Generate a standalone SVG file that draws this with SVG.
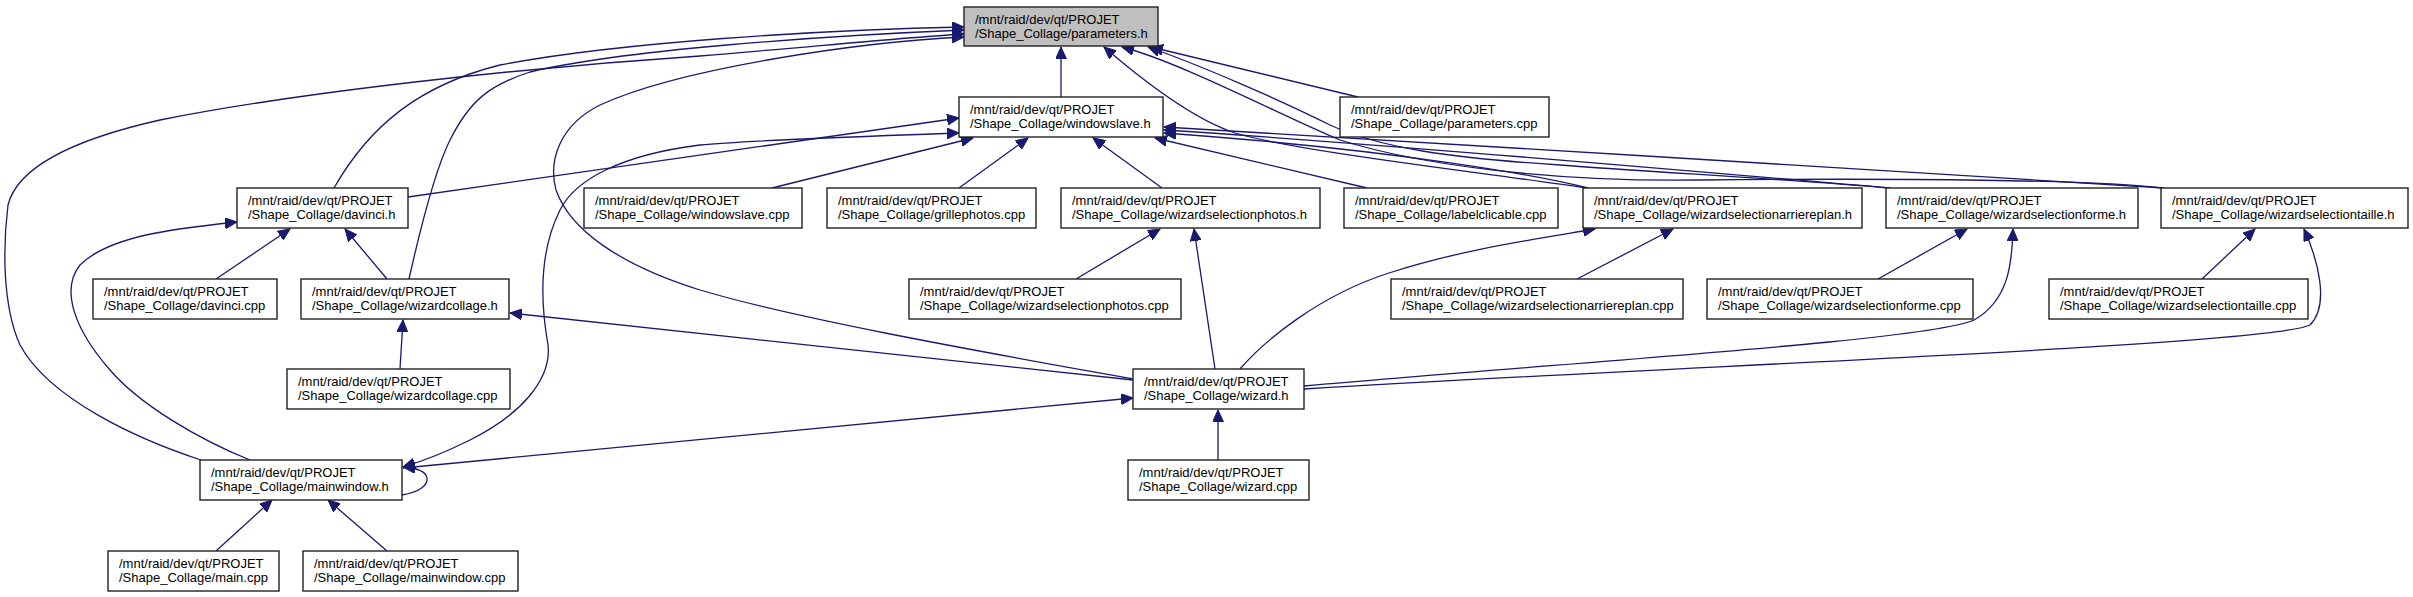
<svg xmlns="http://www.w3.org/2000/svg" width="2413" height="597" viewBox="0 0 2413 597">
<style>
.node rect{fill:#fff;stroke:#222;stroke-width:1.4}
.node.root rect{fill:#bfbfbf}
.node text{font-family:"Liberation Sans",Arial,Helvetica,sans-serif;font-size:13px;fill:#000}
.edges path{fill:none;stroke:#191970;stroke-width:1.3}
</style>
<defs>
<marker id="ah" markerUnits="userSpaceOnUse" markerWidth="13" markerHeight="11" refX="12" refY="5.5" orient="auto">
<path d="M0,0 L12,5.5 L0,11 z" fill="#191970" stroke="#191970" stroke-width="1"/>
</marker>
<marker id="as" markerUnits="userSpaceOnUse" markerWidth="13" markerHeight="11" refX="12" refY="5.5" orient="auto-start-reverse">
<path d="M0,0 L12,5.5 L0,11 z" fill="#191970" stroke="#191970" stroke-width="1"/>
</marker>
</defs>
<rect width="2413" height="597" fill="#fff"/>
<g class="edges" id="edges">
<path marker-end="url(#ah)" d="M1061,97 L1061,47"/>
<path marker-end="url(#ah)" d="M1358,97 L1151,47"/>
<path marker-end="url(#ah)" d="M334,188 C370,125 420,85 500,65 C620,42 820,30 964,27"/>
<path marker-end="url(#ah)" d="M409,279 C420,230 435,170 450,140 C470,100 490,85 530,72 C620,50 820,36 964,30"/>
<path marker-end="url(#ah)" d="M201,460 C140,440 50,400 20,345 C2,305 3,245 8,205 C18,165 80,138 160,120 C300,92 520,68 700,56 C820,46 910,37 964,34"/>
<path marker-end="url(#ah)" d="M1133,379 C1000,355 800,320 700,290 C620,265 570,230 556,190 C548,160 560,125 600,105 C680,68 860,42 964,37"/>
<path marker-end="url(#ah)" d="M1586,188 C1480,172 1300,152 1235,133 C1190,118 1140,78 1104,47"/>
<path marker-end="url(#ah)" d="M2162,188 C2100,180 1900,178 1700,180 C1550,182 1420,165 1340,140 C1280,115 1180,62 1122,47"/>
<path marker-end="url(#ah)" d="M1888,188 C1800,180 1650,172 1560,165 C1450,158 1380,148 1330,125 C1280,100 1200,65 1148,47"/>
<path marker-end="url(#ah)" d="M772,188 L973,138"/>
<path marker-end="url(#ah)" d="M959,188 L1028,138"/>
<path marker-end="url(#ah)" d="M1162,188 L1093,138"/>
<path marker-end="url(#ah)" d="M1367,188 L1155,138"/>
<path marker-end="url(#ah)" d="M408,197 L959,118"/>
<path marker-start="url(#as)" marker-end="url(#ah)" d="M959,133 C850,137 750,140 700,145 C620,155 575,180 560,210 C540,250 540,300 548,345 C552,380 520,415 470,440 C440,455 420,462 403,467"/>
<path marker-end="url(#ah)" d="M1588,188 C1540,176 1400,150 1164,133"/>
<path marker-end="url(#ah)" d="M1890,188 C1700,172 1400,145 1164,130"/>
<path marker-end="url(#ah)" d="M2164,188 C1900,170 1450,145 1164,127"/>
<path marker-end="url(#ah)" d="M216,279 L290,229"/>
<path marker-end="url(#ah)" d="M387,279 L345,229"/>
<path marker-end="url(#ah)" d="M250,460 C200,440 140,405 110,370 C75,330 60,290 80,265 C110,235 180,228 237,222"/>
<path marker-end="url(#ah)" d="M400,369 L403,320"/>
<path marker-end="url(#ah)" d="M1133,380 L510,313"/>
<path marker-end="url(#ah)" d="M403,468 L1133,398"/>
<path marker-end="url(#ah)" d="M402,495 C420,492 428,485 427,478 C426,472 418,468 403,467"/>
<path marker-end="url(#ah)" d="M216,551 L272,500"/>
<path marker-end="url(#ah)" d="M387,551 L328,500"/>
<path marker-end="url(#ah)" d="M1076,279 L1160,229"/>
<path marker-end="url(#ah)" d="M1215,369 L1194,229"/>
<path marker-end="url(#ah)" d="M1240,369 C1265,340 1320,295 1389,273 C1460,250 1530,240 1595,229"/>
<path marker-end="url(#ah)" d="M1577,279 L1673,229"/>
<path marker-end="url(#ah)" d="M1878,279 L1967,229"/>
<path marker-end="url(#ah)" d="M1304,386 C1600,360 1930,340 1974,320 C2010,300 2012,260 2013,229"/>
<path marker-end="url(#ah)" d="M2202,279 L2255,229"/>
<path marker-end="url(#ah)" d="M1304,389 C1700,365 2270,345 2310,325 C2330,305 2318,260 2304,229"/>
<path marker-end="url(#ah)" d="M1218,460 L1218,410"/>
</g>
<g id="n_parameters_h" class="node root"><rect x="964" y="7" width="194" height="39"/><text x="975" y="23.5">/mnt/raid/dev/qt/PROJET</text><text x="975" y="37.5">/Shape_Collage/parameters.h</text></g>
<g id="n_windowslave_h" class="node"><rect x="959" y="97" width="204" height="40"/><text x="970" y="114">/mnt/raid/dev/qt/PROJET</text><text x="970" y="128">/Shape_Collage/windowslave.h</text></g>
<g id="n_parameters_cpp" class="node"><rect x="1340" y="97" width="209" height="40"/><text x="1351" y="114">/mnt/raid/dev/qt/PROJET</text><text x="1351" y="128">/Shape_Collage/parameters.cpp</text></g>
<g id="n_davinci_h" class="node"><rect x="237" y="188" width="171" height="40"/><text x="248" y="205">/mnt/raid/dev/qt/PROJET</text><text x="248" y="219">/Shape_Collage/davinci.h</text></g>
<g id="n_windowslave_cpp" class="node"><rect x="584" y="188" width="218" height="40"/><text x="595" y="205">/mnt/raid/dev/qt/PROJET</text><text x="595" y="219">/Shape_Collage/windowslave.cpp</text></g>
<g id="n_grillephotos_cpp" class="node"><rect x="827" y="188" width="209" height="40"/><text x="838" y="205">/mnt/raid/dev/qt/PROJET</text><text x="838" y="219">/Shape_Collage/grillephotos.cpp</text></g>
<g id="n_wizardselectionphotos_h" class="node"><rect x="1061" y="188" width="259" height="40"/><text x="1072" y="205">/mnt/raid/dev/qt/PROJET</text><text x="1072" y="219">/Shape_Collage/wizardselectionphotos.h</text></g>
<g id="n_labelclicable_cpp" class="node"><rect x="1344" y="188" width="214" height="40"/><text x="1355" y="205">/mnt/raid/dev/qt/PROJET</text><text x="1355" y="219">/Shape_Collage/labelclicable.cpp</text></g>
<g id="n_wizardselectionarriereplan_h" class="node"><rect x="1583" y="188" width="279" height="40"/><text x="1594" y="205">/mnt/raid/dev/qt/PROJET</text><text x="1594" y="219">/Shape_Collage/wizardselectionarriereplan.h</text></g>
<g id="n_wizardselectionforme_h" class="node"><rect x="1886" y="188" width="252" height="40"/><text x="1897" y="205">/mnt/raid/dev/qt/PROJET</text><text x="1897" y="219">/Shape_Collage/wizardselectionforme.h</text></g>
<g id="n_wizardselectiontaille_h" class="node"><rect x="2161" y="188" width="247" height="40"/><text x="2172" y="205">/mnt/raid/dev/qt/PROJET</text><text x="2172" y="219">/Shape_Collage/wizardselectiontaille.h</text></g>
<g id="n_davinci_cpp" class="node"><rect x="93" y="279" width="184" height="40"/><text x="104" y="296">/mnt/raid/dev/qt/PROJET</text><text x="104" y="310">/Shape_Collage/davinci.cpp</text></g>
<g id="n_wizardcollage_h" class="node"><rect x="301" y="279" width="208" height="40"/><text x="312" y="296">/mnt/raid/dev/qt/PROJET</text><text x="312" y="310">/Shape_Collage/wizardcollage.h</text></g>
<g id="n_wizardselectionphotos_cpp" class="node"><rect x="909" y="279" width="272" height="40"/><text x="920" y="296">/mnt/raid/dev/qt/PROJET</text><text x="920" y="310">/Shape_Collage/wizardselectionphotos.cpp</text></g>
<g id="n_wizardselectionarriereplan_cpp" class="node"><rect x="1391" y="279" width="292" height="40"/><text x="1402" y="296">/mnt/raid/dev/qt/PROJET</text><text x="1402" y="310">/Shape_Collage/wizardselectionarriereplan.cpp</text></g>
<g id="n_wizardselectionforme_cpp" class="node"><rect x="1707" y="279" width="266" height="40"/><text x="1718" y="296">/mnt/raid/dev/qt/PROJET</text><text x="1718" y="310">/Shape_Collage/wizardselectionforme.cpp</text></g>
<g id="n_wizardselectiontaille_cpp" class="node"><rect x="2049" y="279" width="259" height="40"/><text x="2060" y="296">/mnt/raid/dev/qt/PROJET</text><text x="2060" y="310">/Shape_Collage/wizardselectiontaille.cpp</text></g>
<g id="n_wizardcollage_cpp" class="node"><rect x="287" y="369" width="223" height="40"/><text x="298" y="386">/mnt/raid/dev/qt/PROJET</text><text x="298" y="400">/Shape_Collage/wizardcollage.cpp</text></g>
<g id="n_wizard_h" class="node"><rect x="1133" y="369" width="171" height="40"/><text x="1144" y="386">/mnt/raid/dev/qt/PROJET</text><text x="1144" y="400">/Shape_Collage/wizard.h</text></g>
<g id="n_mainwindow_h" class="node"><rect x="200" y="460" width="202" height="40"/><text x="211" y="477">/mnt/raid/dev/qt/PROJET</text><text x="211" y="491">/Shape_Collage/mainwindow.h</text></g>
<g id="n_wizard_cpp" class="node"><rect x="1128" y="460" width="181" height="40"/><text x="1139" y="477">/mnt/raid/dev/qt/PROJET</text><text x="1139" y="491">/Shape_Collage/wizard.cpp</text></g>
<g id="n_main_cpp" class="node"><rect x="108" y="551" width="171" height="40"/><text x="119" y="568">/mnt/raid/dev/qt/PROJET</text><text x="119" y="582">/Shape_Collage/main.cpp</text></g>
<g id="n_mainwindow_cpp" class="node"><rect x="303" y="551" width="215" height="40"/><text x="314" y="568">/mnt/raid/dev/qt/PROJET</text><text x="314" y="582">/Shape_Collage/mainwindow.cpp</text></g>
</svg>
